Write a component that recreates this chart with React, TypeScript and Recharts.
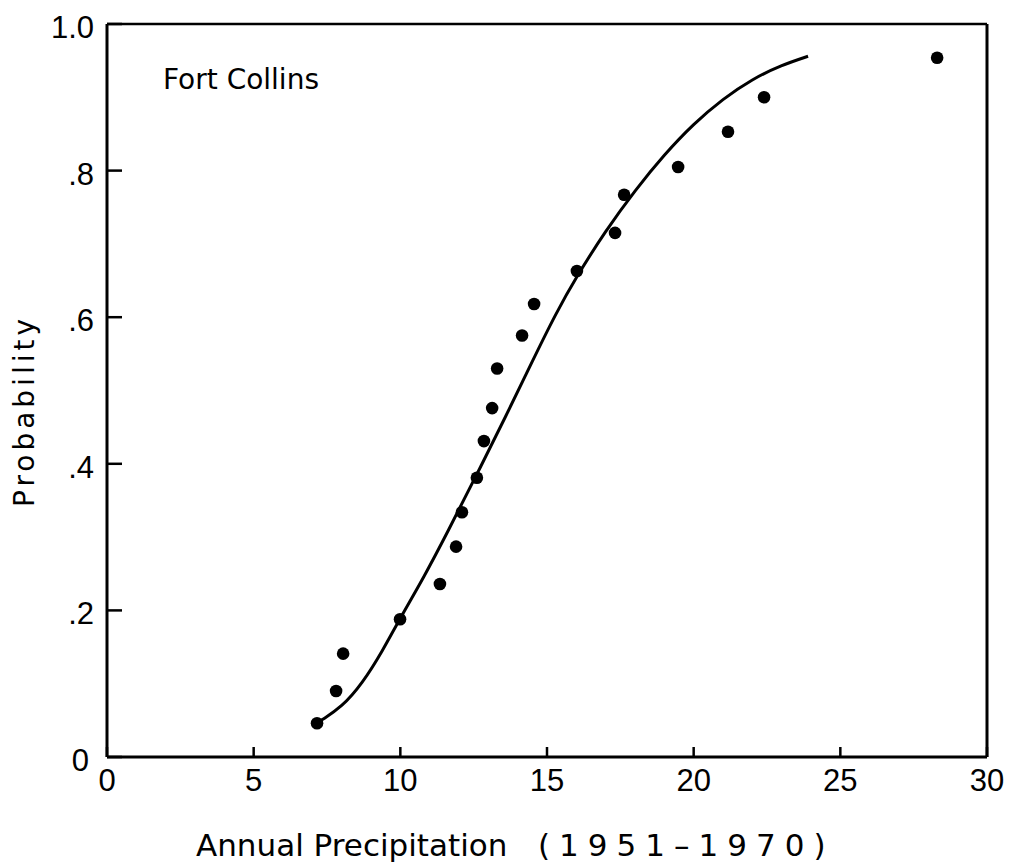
import React from 'react';
import { ScatterChart, Scatter, XAxis, YAxis, ReferenceLine, Customized } from 'recharts';

// Observed annual precipitation (inches) and plotting-position probability
const obsPrecip = [7.16, 7.81, 8.05, 9.99, 11.35, 11.9, 12.1, 12.61, 12.85, 13.13, 13.3, 14.15, 14.56, 16.02, 17.32, 17.63, 19.47, 21.17, 22.4, 28.3];
const obsProb = [0.046, 0.09, 0.141, 0.188, 0.236, 0.287, 0.334, 0.381, 0.431, 0.476, 0.53, 0.575, 0.618, 0.663, 0.715, 0.767, 0.805, 0.853, 0.9, 0.954];

// Fitted distribution curve
const fitPrecip = [7.3, 8.0, 8.7, 9.4, 10.0, 10.8, 11.6, 12.6, 13.6, 14.5, 15.3, 16.0, 17.0, 18.0, 19.0, 20.0, 21.0, 22.0, 23.0, 23.9];
const fitProb = [0.05, 0.068, 0.1, 0.145, 0.19, 0.245, 0.306, 0.385, 0.465, 0.54, 0.605, 0.655, 0.718, 0.773, 0.822, 0.864, 0.898, 0.925, 0.944, 0.956];

const xTicks = [0, 5, 10, 15, 20, 25, 30];
const xTickLabels = ['0', '5', '10', '15', '20', '25', '30'];
const yTicks = [0, 0.2, 0.4, 0.6, 0.8, 1.0];
const yTickLabels = ['0', '.2', '.4', '.6', '.8', '1.0'];

const observed = obsPrecip.map((x, i) => ({ x, y: obsProb[i] }));
const fitted = fitPrecip.map((x, i) => ({ x, y: fitProb[i] }));

const W = 1012;
const H = 865;
const PLOT_LEFT = 107;
const PLOT_RIGHT = 987;
const PLOT_TOP = 24;
const PLOT_BOTTOM = 757;
const Y_AXIS_W = 60;
const X_AXIS_H = 60;

const TICK_FONT = '"Liberation Sans", Arial, sans-serif';
const LABEL_FONT = '"DejaVu Sans", sans-serif';

const XTick = (props: any) => {
  const { x, payload } = props;
  const idx = xTicks.indexOf(payload.value);
  return (
    <g>
      <line x1={x} x2={x} y1={PLOT_BOTTOM} y2={PLOT_BOTTOM - 10} stroke="#000" strokeWidth={2.5} />
      <text x={x} y={791} textAnchor="middle" fontFamily={TICK_FONT} fontSize={31} fill="#000">
        {xTickLabels[idx]}
      </text>
    </g>
  );
};

const YTick = (props: any) => {
  const { y, payload } = props;
  const idx = yTicks.findIndex((v) => Math.abs(v - payload.value) < 1e-9);
  return (
    <g>
      <line x1={PLOT_LEFT} x2={PLOT_LEFT + 15} y1={y} y2={y} stroke="#000" strokeWidth={2.5} />
      <text x={idx === 0 ? 89 : 94} y={y + 14} textAnchor="end" fontFamily={TICK_FONT} fontSize={31} fill="#000">
        {yTickLabels[idx]}
      </text>
    </g>
  );
};

const Dot = (p: any) => <circle cx={p.cx} cy={p.cy} r={6.3} fill="#000" />;
const NoDot = () => <g />;

const Texts = () => (
  <g>
    <text x={163} y={89} fontFamily={LABEL_FONT} fontSize={28} fill="#000">
      Fort Collins
    </text>
    <text
      x={34}
      y={411}
      transform="rotate(-90 34 411)"
      textAnchor="middle"
      fontFamily={LABEL_FONT}
      fontSize={28}
      letterSpacing={4}
      fill="#000"
    >
      Probability
    </text>
    <text y={856} fontFamily={LABEL_FONT} fontSize={31} fill="#000">
      <tspan x={196}>Annual Precipitation</tspan>
      <tspan x={538} letterSpacing={9}>(1951–1970)</tspan>
    </text>
  </g>
);

export default function App() {
  return (
    <div style={{ position: 'absolute', left: 0, top: 0, width: W, height: H, background: '#fff' }}>
      <ScatterChart
        width={W}
        height={H}
        margin={{
          top: PLOT_TOP,
          right: W - PLOT_RIGHT,
          bottom: H - PLOT_BOTTOM - X_AXIS_H,
          left: PLOT_LEFT - Y_AXIS_W,
        }}
      >
        <XAxis
          type="number"
          dataKey="x"
          domain={[0, 30]}
          ticks={xTicks}
          allowDataOverflow
          height={X_AXIS_H}
          axisLine={{ stroke: '#000', strokeWidth: 3 }}
          tickLine={false}
          tick={<XTick />}
        />
        <YAxis
          type="number"
          dataKey="y"
          domain={[0, 1]}
          ticks={yTicks}
          allowDataOverflow
          width={Y_AXIS_W}
          axisLine={{ stroke: '#000', strokeWidth: 3 }}
          tickLine={false}
          tick={<YTick />}
        />
        <ReferenceLine y={1} stroke="#000" strokeWidth={2.5} />
        <ReferenceLine x={30} stroke="#000" strokeWidth={3} />
        <Scatter
          data={fitted}
          line={{ stroke: '#000', strokeWidth: 3 }}
          lineJointType="basis"
          shape={NoDot}
          isAnimationActive={false}
        />
        <Scatter data={observed} shape={Dot} isAnimationActive={false} />
        <Customized component={Texts} />
      </ScatterChart>
    </div>
  );
}
